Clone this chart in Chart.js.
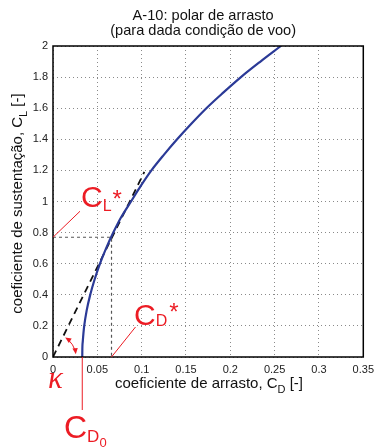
<!DOCTYPE html>
<html>
<head>
<meta charset="utf-8">
<title>A-10: polar de arrasto</title>
<script src="https://cdn.jsdelivr.net/npm/chart.js@4/dist/chart.umd.min.js"></script>
<style>
  html, body { margin: 0; padding: 0; background: #fff; }
  #polar { display: block; }
</style>
</head>
<body>
<canvas id="polar" width="380" height="447"></canvas>
<script>
// Drag polar, values
const CL_VALUES = [0, 0.05, 0.1, 0.15, 0.2, 0.3, 0.4, 0.5, 0.6, 0.7, 0.8, 0.9, 1.0,
                   1.1, 1.2, 1.3, 1.4, 1.5, 1.6, 1.7, 1.8, 1.9, 2.0];
const CD_VALUES = [0.033, 0.0331, 0.0336, 0.0343, 0.0352, 0.038, 0.042, 0.047, 0.053, 0.060, 0.068, 0.077, 0.088,
                   0.099, 0.111, 0.125, 0.140, 0.156, 0.173, 0.192, 0.212, 0.234, 0.257];

// Tangent from the origin (max L/D)
const TANGENT_CD = [0, 0.103];
const TANGENT_CL = [0, 1.19];

// Marked points
const CD0 = 0.033;
const CD_STAR = 0.066;
const CL_STAR = 0.77;

// Ticks
const X_TICKS = [0, 0.05, 0.1, 0.15, 0.2, 0.25, 0.3, 0.35];
const Y_TICKS = [0, 0.2, 0.4, 0.6, 0.8, 1, 1.2, 1.4, 1.6, 1.8, 2];

const RED = '#ec1c24';
const FONT = '"Liberation Sans", Arial, Helvetica, sans-serif';

const toPoints = (xs, ys) => xs.map((x, i) => ({ x: x, y: ys[i] }));

// draw text pieces left to right (for subscripts / superscripts)
function drawRuns(ctx, x, y, runs) {
    runs.forEach(r => {
        ctx.font = r.font;
        ctx.fillText(r.text, x + (r.dx || 0), y + (r.dy || 0));
        x += ctx.measureText(r.text).width + (r.dx || 0);
    });
    return x;
}
function runsWidth(ctx, runs) {
    let w = 0;
    runs.forEach(r => { ctx.font = r.font; w += ctx.measureText(r.text).width + (r.dx || 0); });
    return w;
}

function arrowHead(ctx, x, y, angle, size) {
    ctx.save();
    ctx.translate(x, y);
    ctx.rotate(angle);
    ctx.beginPath();
    ctx.moveTo(0, 0);
    ctx.lineTo(-size, -size * 0.45);
    ctx.lineTo(-size, size * 0.45);
    ctx.closePath();
    ctx.fill();
    ctx.restore();
}

const annotations = {
    id: 'annotations',
    afterDraw(chart) {
        const ctx = chart.ctx;
        const area = chart.chartArea;
        const xs = chart.scales.x;
        const ys = chart.scales.y;
        const midX = (area.left + area.right) / 2;
        const midY = (area.top + area.bottom) / 2;

        ctx.save();

        // box
        ctx.strokeStyle = '#000';
        ctx.lineWidth = 1.5;
        ctx.strokeRect(area.left, area.top, area.right - area.left, area.bottom - area.top);

        // title
        ctx.fillStyle = '#111';
        ctx.textAlign = 'center';
        ctx.textBaseline = 'alphabetic';
        ctx.font = '14.6px ' + FONT;
        ctx.fillText('A-10: polar de arrasto', midX - 5, 20);
        ctx.fillText('(para dada condição de voo)', midX - 5, 35);

        // axis titles
        ctx.textAlign = 'left';
        const xRuns = [
            { text: 'coeficiente de arrasto, C', font: '15px ' + FONT },
            { text: 'D', font: '11px ' + FONT, dy: 5 },
            { text: ' [-]', font: '15px ' + FONT }
        ];
        drawRuns(ctx, 209 - runsWidth(ctx, xRuns) / 2, 388, xRuns);

        const yRuns = [
            { text: 'coeficiente de sustentação, C', font: '15px ' + FONT },
            { text: 'L', font: '11px ' + FONT, dy: 5 },
            { text: ' [-]', font: '15px ' + FONT }
        ];
        ctx.save();
        ctx.translate(22, midY + 2);
        ctx.rotate(-Math.PI / 2);
        drawRuns(ctx, -runsWidth(ctx, yRuns) / 2, 0, yRuns);
        ctx.restore();

        // red annotations
        const x0 = xs.getPixelForValue(0);
        const y0 = ys.getPixelForValue(0);
        const xCd0 = xs.getPixelForValue(CD0);
        const xStar = xs.getPixelForValue(CD_STAR);
        const yStar = ys.getPixelForValue(CL_STAR);

        ctx.strokeStyle = RED;
        ctx.fillStyle = RED;
        ctx.lineWidth = 1;
        ctx.beginPath();
        ctx.moveTo(x0, yStar);
        ctx.lineTo(x0 + 27, yStar - 26);
        ctx.moveTo(xStar, y0);
        ctx.lineTo(xStar + 24, y0 - 30);
        ctx.moveTo(xCd0, y0);
        ctx.lineTo(xCd0, 410);
        ctx.stroke();

        drawRuns(ctx, 81, 207, [
            { text: 'C', font: '30px ' + FONT },
            { text: 'L', font: '16px ' + FONT, dy: 4 },
            { text: '*', font: '24px ' + FONT, dy: 0, dx: 1 }
        ]);
        drawRuns(ctx, 134, 325, [
            { text: 'C', font: '30px ' + FONT },
            { text: 'D', font: '16px ' + FONT, dy: 1 },
            { text: '*', font: '24px ' + FONT, dy: -5, dx: 2 }
        ]);
        drawRuns(ctx, 64, 438, [
            { text: 'C', font: '32px ' + FONT },
            { text: 'D', font: '17px ' + FONT, dy: 4 },
            { text: '0', font: '13px ' + FONT, dy: 9 }
        ]);

        ctx.font = 'italic 31px "Liberation Serif", "DejaVu Serif", serif';
        ctx.fillText('κ', 48, 388);

        // angle arrow between tangent and axis
        const r = 23;
        const a1 = -58 * Math.PI / 180;
        const a2 = -7 * Math.PI / 180;
        ctx.beginPath();
        ctx.arc(x0, y0, r, a1 + 0.2, a2 - 0.18);
        ctx.stroke();
        arrowHead(ctx, x0 + r * Math.cos(a1), y0 + r * Math.sin(a1), a1 - Math.PI / 2, 6);
        arrowHead(ctx, x0 + r * Math.cos(a2), y0 + r * Math.sin(a2), a2 + Math.PI / 2, 6);

        ctx.restore();
    }
};

new Chart(document.getElementById('polar'), {
    type: 'scatter',
    data: {
        datasets: [
            {
                label: 'polar de arrasto',
                data: toPoints(CD_VALUES, CL_VALUES),
                showLine: true,
                borderColor: '#2b3a97',
                borderWidth: 2.2,
                pointRadius: 0,
                cubicInterpolationMode: 'monotone'
            },
            {
                label: 'tangente',
                data: toPoints(TANGENT_CD, TANGENT_CL),
                showLine: true,
                borderColor: '#111',
                borderWidth: 1.8,
                borderDash: [7, 5],
                pointRadius: 0
            },
            {
                label: 'ponto ótimo',
                data: [{ x: 0, y: CL_STAR }, { x: CD_STAR, y: CL_STAR }, { x: CD_STAR, y: 0 }],
                showLine: true,
                borderColor: '#555',
                borderWidth: 1.2,
                borderDash: [3, 3],
                pointRadius: 0
            }
        ]
    },
    options: {
        responsive: false,
        animation: false,
        devicePixelRatio: 1,
        layout: { padding: { left: 0, right: 11, top: 46, bottom: 0 } },
        plugins: {
            legend: { display: false },
            tooltip: { enabled: false }
        },
        scales: {
            x: {
                type: 'linear',
                min: 0,
                max: 0.35,
                afterFit: s => { s.height = 90; },
                afterBuildTicks: s => { s.ticks = X_TICKS.map(v => ({ value: v })); },
                grid: { color: '#8a8a8a', lineWidth: 1, drawTicks: false },
                border: { display: false, dash: [1, 3] },
                ticks: {
                    padding: 6,
                    color: '#222',
                    font: { family: FONT, size: 11 },
                    callback: v => String(v)
                }
            },
            y: {
                type: 'linear',
                min: 0,
                max: 2,
                afterFit: s => { s.width = 53; },
                afterBuildTicks: s => { s.ticks = Y_TICKS.map(v => ({ value: v })); },
                grid: { color: '#8a8a8a', lineWidth: 1, drawTicks: false },
                border: { display: false, dash: [1, 3] },
                ticks: {
                    padding: 5,
                    color: '#222',
                    font: { family: FONT, size: 11 },
                    callback: v => String(v)
                }
            }
        }
    },
    plugins: [annotations]
});
</script>
</body>
</html>
